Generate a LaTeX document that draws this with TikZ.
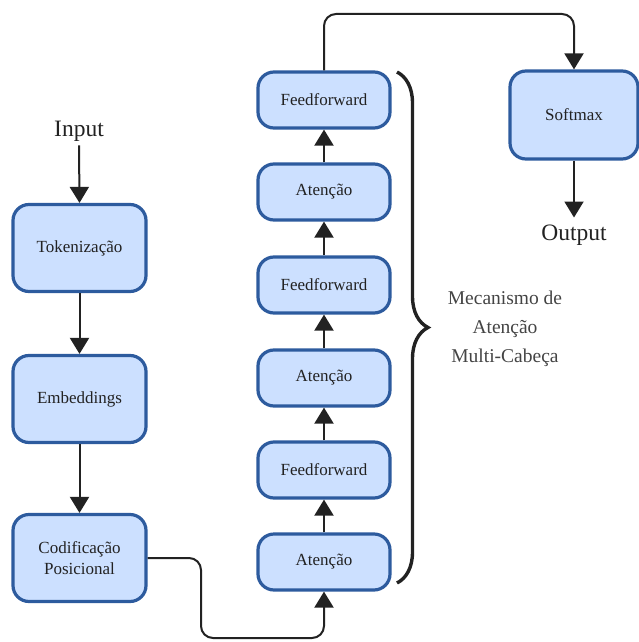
\documentclass[tikz,border=0pt]{standalone}
\usepackage{fontspec}
\setmainfont{Liberation Serif}
\usetikzlibrary{arrows.meta,decorations.pathreplacing}
\definecolor{boxfill}{HTML}{CCE0FF}
\definecolor{boxline}{HTML}{2D5B9E}
\definecolor{ink}{HTML}{222222}
\definecolor{note}{HTML}{444444}
\begin{document}
\begin{tikzpicture}[x=1pt,y=-1pt,
  block/.style={draw=boxline,fill=boxfill,line width=3.2pt,rounded corners=16pt,
    align=center,text=ink,font=\fontsize{17}{21}\selectfont,inner sep=0pt},
  leftbox/.style={block,minimum width=133pt,minimum height=87pt},
  midbox/.style={block,minimum width=132pt,minimum height=56pt},
  flow/.style={draw=ink,line width=2pt,-{Triangle[width=19pt,length=16pt]}},
  label/.style={text=ink,font=\fontsize{23.5}{28}\selectfont,inner sep=0pt}]
\useasboundingbox (0,0) rectangle (638,642);

% input pipeline
\node[label] (in) at (79,131) {Input};
\node[leftbox] (tok) at (79.5,248) {Tokenização};
\node[leftbox] (emb) at (79.5,399) {Embeddings};
\node[leftbox] (pos) at (79.5,558) {Codificação\\Posicional};

% stacked attention / feedforward layers
\node[midbox] (a1) at (324,562) {Atenção};
\node[midbox] (f1) at (324,470) {Feedforward};
\node[midbox] (a2) at (324,378) {Atenção};
\node[midbox] (f2) at (324,285) {Feedforward};
\node[midbox] (a3) at (324,192) {Atenção};
\node[midbox] (f3) at (324,100) {Feedforward};

% output side
\node[block,minimum width=128pt,minimum height=88pt] (soft) at (574,115) {Softmax};
\node[label] (out) at (574,235) {Output};

\draw[flow] (in.south) ++(0,4) -- (tok.north);
\draw[flow] (tok) -- (emb);
\draw[flow] (emb) -- (pos);
\draw[flow,rounded corners=12pt] (pos.east) -| (201,638) -| (a1.south);
\draw[flow] (a1) -- (f1);
\draw[flow] (f1) -- (a2);
\draw[flow] (a2) -- (f2);
\draw[flow] (f2) -- (a3);
\draw[flow] (a3) -- (f3);
\draw[flow,rounded corners=12pt] (f3.north) |- (450,14) -| (soft.north);
\draw[flow] (soft.south) -- ([yshift=7pt]out.north);

% brace grouping the layer stack
\coordinate (bt) at (397,72);
\coordinate (bb) at (397,583);
\draw[draw=ink,line width=3.4pt,decorate,decoration={brace,amplitude=31pt,aspect=0.5}] (bt) -- (bb);
\node[text=note,align=center,font=\fontsize{19.5}{29}\selectfont] (mech) at (505,329)
  {Mecanismo de\\Atenção\\Multi-Cabeça};
\end{tikzpicture}
\end{document}
